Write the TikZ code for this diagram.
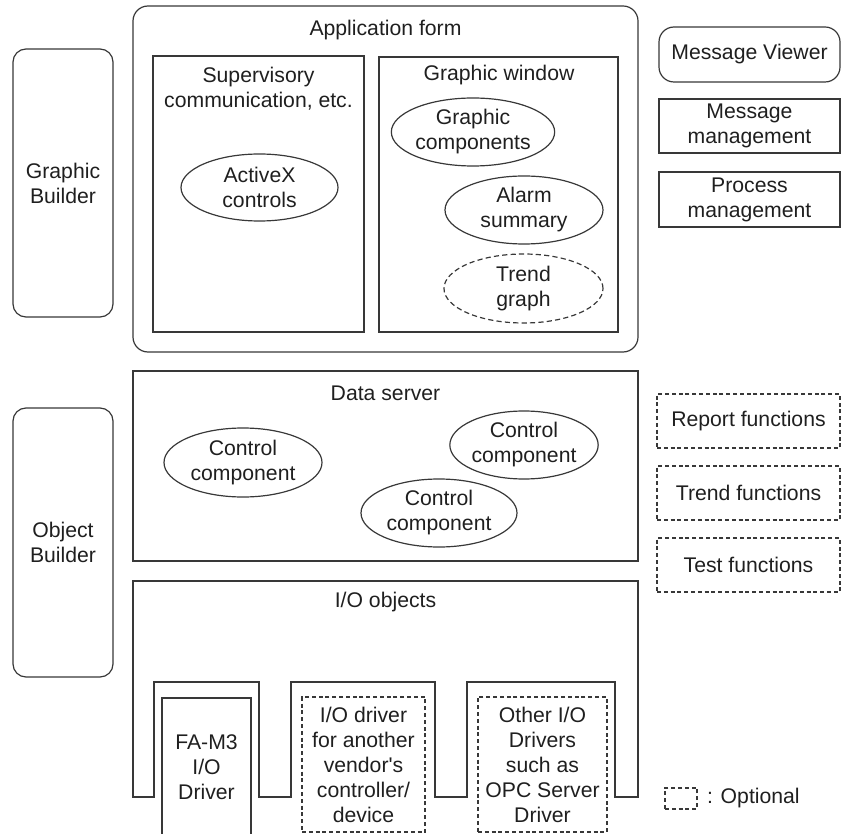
\documentclass[tikz,border=0pt]{standalone}
\usepackage{fontspec}
\setmainfont{Liberation Sans}
\usetikzlibrary{shapes.geometric,positioning}

\definecolor{linegray}{gray}{0.22}
\definecolor{textgray}{gray}{0.12}
\newcommand{\diagfont}{\fontsize{10.6}{12.5}\selectfont}

\tikzset{
    box/.style={draw=linegray, line width=0.6pt, inner sep=0pt, align=center, text=textgray},
    rbox/.style={box, rounded corners=6.5pt},
    optbox/.style={box, dash pattern=on 2pt off 1.4pt},
    comp/.style={ellipse, draw=linegray, line width=0.6pt, inner sep=0pt, align=center, text=textgray},
    optcomp/.style={comp, dash pattern=on 2.6pt off 1.6pt},
    lbl/.style={inner sep=0pt, align=center, text=textgray}
}

\begin{document}
\begin{tikzpicture}[x=0.5pt, y=-0.5pt, every node/.style={font=\diagfont}]
    \useasboundingbox (0,0) rectangle (841,834);

    % builders on the left
    \node[rbox, minimum width=50pt, minimum height=134pt] (gbuild) at (63,183) {Graphic\\Builder};
    \node[rbox, minimum width=50pt, minimum height=134.5pt] (obuild) at (63,542.5) {Object\\Builder};

    % application form
    \node[rbox, rounded corners=7.5pt, minimum width=252.5pt, minimum height=173pt] (appform) at (385.5,179) {};
    \node[lbl] (appformlbl) at (385.5,30) {Application form};
    \node[box, minimum width=105.5pt, minimum height=138pt] (superv) at (258.5,194) {};
    \node[lbl] (supervlbl) at (258.5,89) {Supervisory\\communication, etc.};
    \node[comp, minimum width=78.5pt, minimum height=33.5pt] (activex) at (259.5,187.5) {ActiveX\\controls};
    \node[box, minimum width=119.5pt, minimum height=137.5pt] (gwin) at (498.5,194.5) {};
    \node[lbl] (gwinlbl) at (499,75) {Graphic window};
    \node[comp, minimum width=79pt, minimum height=34pt] (gcomp) at (473,132) {Graphic\\components};
    \node[comp, minimum width=79pt, minimum height=34pt] (alarm) at (524,210) {Alarm\\summary};
    \node[optcomp, minimum width=79.5pt, minimum height=34.5pt] (trendg) at (523.5,288.5) {Trend\\graph};

    % data server
    \node[box, minimum width=252.5pt, minimum height=95pt] (dserver) at (385.5,466) {};
    \node[lbl] (dserverlbl) at (385.5,393) {Data server};
    \node[comp, minimum width=79pt, minimum height=34.5pt] (ctrla) at (243,462.5) {Control\\component};
    \node[comp, minimum width=74pt, minimum height=34pt] (ctrlb) at (524,445) {Control\\component};
    \node[comp, minimum width=78pt, minimum height=34pt] (ctrlc) at (439,513) {Control\\component};

    % I/O objects with driver slots
    \draw[linegray, line width=0.6pt] (133,581) -- (638,581) -- (638,797) -- (615,797) -- (615,682)
        -- (467,682) -- (467,797) -- (435,797) -- (435,682) -- (291,682) -- (291,797)
        -- (259,797) -- (259,682) -- (154,682) -- (154,797) -- (133,797) -- cycle;
    \node[lbl] (iolbl) at (385.5,602) {I/O objects};
    \node[box, minimum width=44.5pt, minimum height=69pt] (fam3) at (206.5,767) {FA-M3\\I/O\\Driver};
    \node[optbox, minimum width=61.5pt, minimum height=67.5pt] (vendor) at (363.5,764.5) {I/O driver\\for another\\vendor\textquotesingle s\\controller/\\device};
    \node[optbox, minimum width=64.5pt, minimum height=67.5pt] (otherio) at (542.5,764.5) {Other I/O\\Drivers\\such as\\OPC Server\\Driver};

    % right column
    \node[rbox, rounded corners=7.5pt, minimum width=90.5pt, minimum height=27.5pt] (msgview) at (749.5,54.5) {Message Viewer};
    \node[box, minimum width=90.5pt, minimum height=27pt] (msgmgmt) at (749.5,126) {Message\\management};
    \node[box, minimum width=90.5pt, minimum height=27.5pt] (procmgmt) at (749.5,199.5) {Process\\management};
    \node[optbox, minimum width=91.5pt, minimum height=27pt] (report) at (748.5,421) {Report functions};
    \node[optbox, minimum width=91.5pt, minimum height=27pt] (trendf) at (748.5,493) {Trend functions};
    \node[optbox, minimum width=91.5pt, minimum height=27pt] (testf) at (748.5,565) {Test functions};

    % legend
    \node[optbox, minimum width=16pt, minimum height=10.5pt] (legbox) at (681,798.5) {};
    \node[lbl, right=4.5pt of legbox] (legtext) {: Optional};
\end{tikzpicture}
\end{document}
